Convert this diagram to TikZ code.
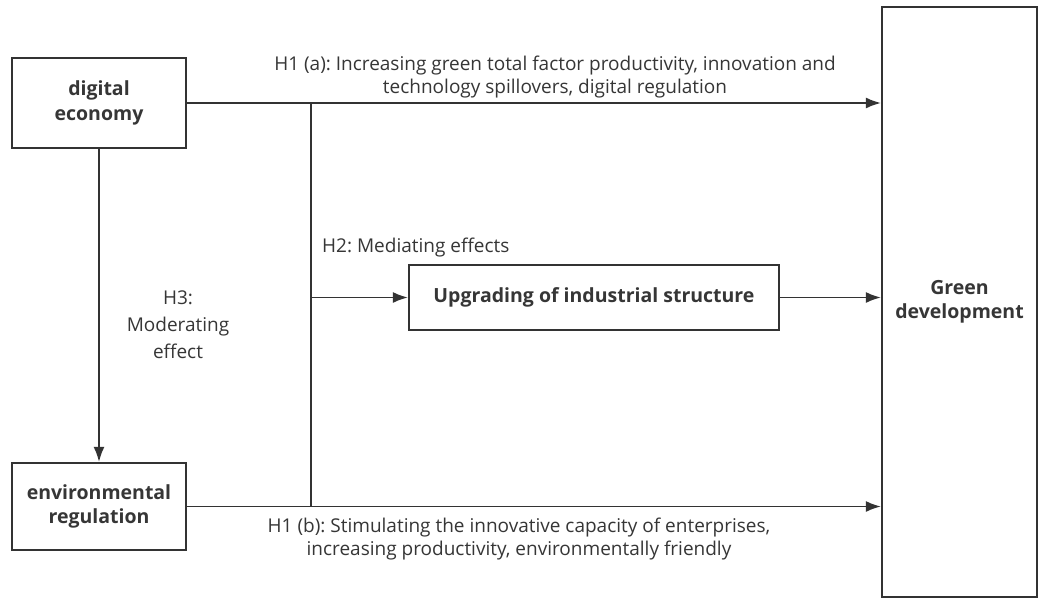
\documentclass[tikz,border=0pt]{standalone}
\usepackage{fontspec}
\setmainfont{Open Sans}
\usetikzlibrary{arrows.meta}
\definecolor{ink}{HTML}{333333}
\definecolor{txt}{HTML}{363636}
\frenchspacing
\begin{document}
\begin{tikzpicture}[x=1pt,y=-1pt,
  box/.style={draw=ink,line width=2.2pt,fill=white,inner sep=0pt,align=center,text=txt,font=\fontsize{19.5}{24.5}\selectfont\bfseries},
  conn/.style={draw=ink,line width=1.8pt},
  arr/.style={conn,-{Latex[length=15pt,width=11pt]}},
  lbl/.style={text=txt,align=center,font=\fontsize{19}{22.5}\selectfont,inner sep=0pt}]
\useasboundingbox[fill=white] (0,0) rectangle (1041,599);
\node[box,minimum width=174pt,minimum height=90pt] (de) at (99,103) {digital\\economy};
\node[box,minimum width=174pt,minimum height=87pt] (er) at (99,506.5) {environmental\\regulation};
\node[box,minimum width=155pt,minimum height=590pt] (gd) at (959.5,302) {Green\\development};
\node[box,minimum width=370pt,minimum height=65pt] (up) at (594,297.5) {Upgrading of industrial structure};
\coordinate (j1) at (311,103);
\coordinate (j2) at (311,506.5);
\coordinate (jm) at (311,297.5);
\draw[arr] (de.east) -- (de.east -| gd.west);
\draw[arr] (er.east) -- (er.east -| gd.west);
\draw[conn] (j1) -- (j2);
\draw[arr] (jm) -- (up.west);
\draw[arr] (up.east) -- (up.east -| gd.west);
\draw[arr] (de.south) -- (er.north);
\node[lbl] (h1a) at (555,77) {H1 (a): Increasing green total factor productivity, innovation and\\technology spillovers, digital regulation};
\node[lbl,anchor=west] (h2) at (322,248) {H2: Mediating effects};
\node[lbl,font=\fontsize{19}{27}\selectfont] (h3) at (178,325) {H3:\\Moderating\\effect};
\node[lbl] (h1b) at (519,539) {H1 (b): Stimulating the innovative capacity of enterprises,\\increasing productivity, environmentally friendly};
\end{tikzpicture}
\end{document}
